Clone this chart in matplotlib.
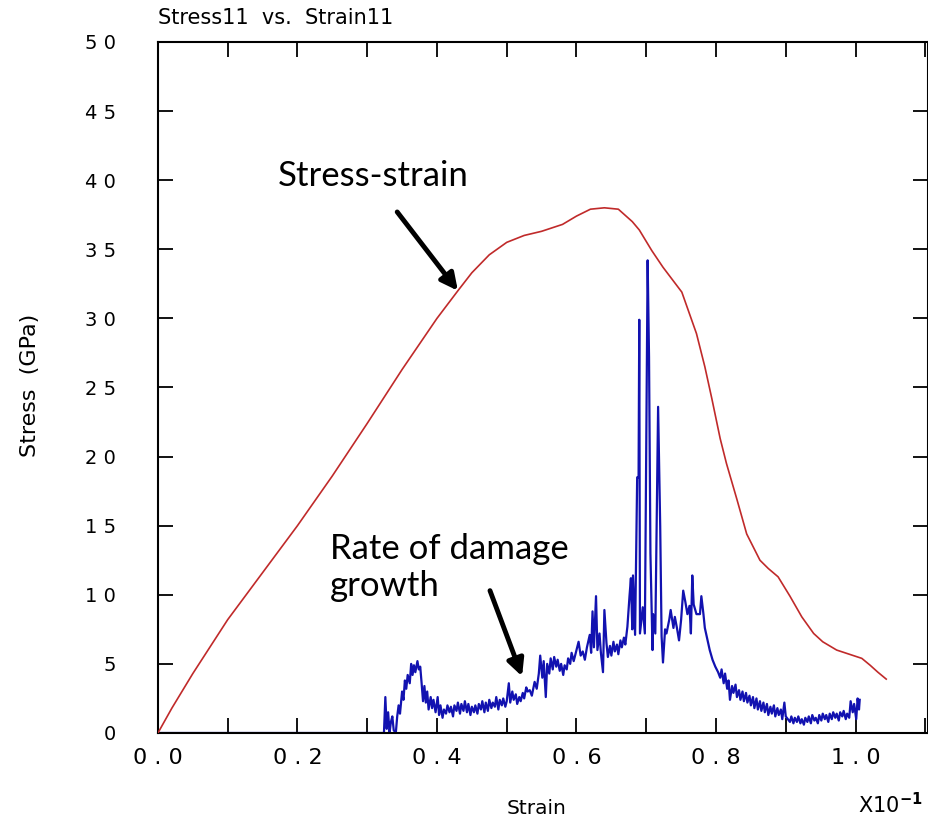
import matplotlib
matplotlib.use("Agg")
import matplotlib.pyplot as plt
from matplotlib.ticker import MultipleLocator, FuncFormatter

# stress-strain curve (strain in units of 1e-1, stress in GPa)
stress_strain = [0.000, 0.020, 0.050, 0.100, 0.150, 0.200, 0.250, 0.300, 0.350,
                 0.400, 0.430, 0.450, 0.475, 0.500, 0.525, 0.550, 0.580, 0.600,
                 0.620, 0.640, 0.660, 0.680, 0.690, 0.708, 0.724, 0.751, 0.772,
                 0.784, 0.794, 0.806, 0.815, 0.830, 0.844, 0.856, 0.863, 0.875,
                 0.889, 0.906, 0.923, 0.940, 0.953, 0.973, 0.997, 1.009, 1.021,
                 1.032, 1.044]
stress_vals = [0.0, 1.8, 4.3, 8.2, 11.6, 15.0, 18.6, 22.4, 26.3,
               30.0, 32.0, 33.3, 34.6, 35.5, 36.0, 36.3, 36.8, 37.4,
               37.9, 38.0, 37.9, 37.0, 36.4, 34.9, 33.7, 31.9, 28.9,
               26.5, 24.2, 21.3, 19.5, 16.9, 14.4, 13.2, 12.5, 11.9,
               11.3, 9.9, 8.4, 7.2, 6.6, 6.0, 5.6, 5.4, 4.9,
               4.4, 3.9]

# rate of damage growth
damage_strain = [0.000, 0.322, 0.324, 0.326, 0.328, 0.330, 0.332, 0.334, 0.336, 0.338,
                 0.341, 0.343, 0.345, 0.347, 0.350, 0.352, 0.354, 0.356, 0.358, 0.361,
                 0.363, 0.365, 0.367, 0.369, 0.372, 0.374, 0.376, 0.378, 0.380, 0.382,
                 0.384, 0.386, 0.388, 0.391, 0.393, 0.395, 0.398, 0.401, 0.403, 0.405,
                 0.408, 0.410, 0.413, 0.415, 0.418, 0.420, 0.423, 0.425, 0.428, 0.430,
                 0.433, 0.435, 0.438, 0.440, 0.443, 0.445, 0.448, 0.450, 0.453, 0.455,
                 0.458, 0.460, 0.463, 0.465, 0.468, 0.470, 0.473, 0.475, 0.478, 0.480,
                 0.483, 0.485, 0.488, 0.490, 0.493, 0.495, 0.498, 0.500, 0.503, 0.505,
                 0.508, 0.510, 0.513, 0.515, 0.518, 0.520, 0.523, 0.525, 0.528, 0.530,
                 0.533, 0.536, 0.540, 0.543, 0.546, 0.548, 0.551, 0.553, 0.556, 0.558,
                 0.561, 0.563, 0.566, 0.568, 0.571, 0.573, 0.576, 0.578, 0.581, 0.583,
                 0.586, 0.588, 0.591, 0.593, 0.596, 0.599, 0.603, 0.606, 0.609, 0.612,
                 0.615, 0.619, 0.621, 0.623, 0.625, 0.628, 0.630, 0.633, 0.635, 0.638,
                 0.640, 0.643, 0.645, 0.648, 0.650, 0.653, 0.655, 0.658, 0.660, 0.663,
                 0.665, 0.668, 0.670, 0.673, 0.676, 0.678, 0.680, 0.681, 0.684, 0.687,
                 0.689, 0.690, 0.691, 0.695, 0.698, 0.700, 0.702, 0.704, 0.706, 0.709,
                 0.710, 0.713, 0.715, 0.717, 0.720, 0.722, 0.724, 0.727, 0.729, 0.733,
                 0.735, 0.739, 0.741, 0.744, 0.747, 0.750, 0.753, 0.756, 0.759, 0.762,
                 0.764, 0.766, 0.768, 0.772, 0.777, 0.779, 0.782, 0.784, 0.788, 0.791,
                 0.795, 0.799, 0.803, 0.806, 0.808, 0.811, 0.813, 0.816, 0.818, 0.820,
                 0.823, 0.825, 0.828, 0.830, 0.833, 0.835, 0.838, 0.840, 0.843, 0.845,
                 0.848, 0.850, 0.853, 0.855, 0.858, 0.860, 0.863, 0.865, 0.868, 0.870,
                 0.873, 0.875, 0.878, 0.880, 0.883, 0.885, 0.888, 0.890, 0.893, 0.895,
                 0.898, 0.900, 0.903, 0.906, 0.908, 0.911, 0.913, 0.916, 0.918, 0.921,
                 0.923, 0.926, 0.928, 0.931, 0.933, 0.936, 0.938, 0.941, 0.943, 0.946,
                 0.948, 0.951, 0.953, 0.956, 0.958, 0.961, 0.963, 0.966, 0.968, 0.971,
                 0.973, 0.976, 0.978, 0.981, 0.983, 0.986, 0.988, 0.991, 0.993, 0.996,
                 0.998, 1.001, 1.003, 1.005, 1.006]
damage_vals = [0.0, 0.0, 0.0, 2.6, 0.3, 1.5, 0.0, 0.8, 1.2, 0.2,
               0.0, 1.2, 2.0, 1.4, 3.0, 2.4, 3.8, 3.2, 4.2, 3.6,
               5.0, 4.2, 4.9, 4.4, 5.2, 4.6, 4.8, 3.6, 2.3, 3.4,
               2.2, 3.0, 1.7, 2.6, 1.8, 2.4, 1.5, 2.6, 1.3, 2.0,
               1.1, 1.7, 1.4, 2.0, 1.5, 1.9, 1.2, 2.0, 1.6, 2.2,
               1.4, 2.1, 1.6, 2.3, 1.5, 2.1, 1.3, 1.9, 1.5, 2.0,
               1.4, 2.1, 1.7, 2.3, 1.5, 2.2, 1.6, 2.4, 1.8, 2.2,
               1.9, 2.6, 1.7, 2.4, 2.0, 2.5, 1.9, 2.3, 3.6, 2.2,
               3.0, 2.4, 2.8, 2.1, 2.6, 2.3, 2.9, 2.5, 3.3, 3.0,
               3.1, 2.7, 3.7, 3.2, 4.3, 5.6, 4.0, 5.2, 2.6, 5.0,
               4.3, 5.4, 4.6, 5.5, 4.8, 5.3, 4.5, 5.0, 4.2, 4.9,
               4.6, 5.4, 5.0, 5.8, 5.2, 5.8, 6.6, 5.6, 5.9, 5.3,
               6.2, 7.1, 5.8, 8.8, 6.2, 9.9, 6.0, 7.2, 5.8, 4.4,
               8.9, 6.5, 5.5, 6.3, 5.6, 6.6, 5.9, 6.4, 5.7, 6.7,
               6.2, 6.9, 6.4, 7.7, 9.9, 11.2, 7.5, 11.4, 7.1, 18.5,
               18.5, 29.9, 7.2, 9.1, 7.2, 20.7, 34.2, 27.2, 13.0, 6.0,
               8.6, 7.2, 15.7, 23.6, 15.0, 7.0, 5.1, 7.5, 7.2, 8.2,
               8.9, 7.6, 8.4, 7.6, 6.7, 8.2, 10.3, 9.5, 8.6, 9.2,
               7.2, 11.4, 9.3, 8.6, 8.6, 9.9, 8.6, 7.6, 6.7, 6.0,
               5.3, 4.8, 4.4, 4.0, 4.6, 3.6, 4.3, 3.2, 3.8, 2.4,
               3.4, 2.9, 3.5, 2.6, 3.1, 2.4, 3.0, 2.3, 2.9, 2.2,
               2.7, 2.0, 2.6, 1.8, 2.5, 1.7, 2.3, 1.6, 2.2, 1.5,
               2.1, 1.3, 1.9, 1.4, 2.0, 1.2, 1.8, 1.3, 1.7, 1.0,
               2.2, 1.2, 1.0, 0.8, 1.2, 0.7, 1.1, 0.8, 1.2, 0.7,
               1.0, 0.6, 1.1, 0.8, 1.2, 0.7, 1.3, 0.9, 1.1, 0.7,
               1.3, 0.9, 1.4, 1.0, 1.3, 0.8, 1.4, 1.0, 1.5, 1.1,
               1.4, 0.9, 1.5, 1.2, 1.6, 1.0, 1.4, 1.1, 2.3, 1.5,
               2.1, 1.0, 2.5, 1.7, 2.4]

pixel_font = "DejaVu Sans"
note_font = "Lato"

fig = plt.figure(figsize=(9.29, 8.26), dpi=100)
ax = fig.add_axes([0.170, 0.1126, 0.829, 0.8366])

ax.plot(stress_strain, stress_vals, color="#c02a2a", lw=1.2, zorder=3)
ax.plot(damage_strain, damage_vals, color="#1212b0", lw=1.6, zorder=2)

ax.set_xlim(0, 1.104)
ax.set_ylim(0, 50)

ax.xaxis.set_major_locator(MultipleLocator(0.1))
ax.yaxis.set_major_locator(MultipleLocator(5))


def fmt_x(v, pos):
    k = int(round(v * 10))
    if k % 2:
        return ""
    return " . ".join(f"{v:.1f}".split("."))


def fmt_y(v, pos):
    return " ".join(str(int(round(v))))


ax.xaxis.set_major_formatter(FuncFormatter(fmt_x))
ax.yaxis.set_major_formatter(FuncFormatter(fmt_y))
ax.tick_params(axis="both", direction="in", length=11, width=1.3,
               top=True, right=True, labelfontfamily=pixel_font)
ax.tick_params(axis="x", labelsize=16, pad=11)
ax.tick_params(axis="y", labelsize=14, pad=30)
for s in ax.spines.values():
    s.set_linewidth(1.5)

fig.text(158 / 929, 1 - 18 / 826, "Stress11  vs.  Strain11", fontsize=15,
         family=pixel_font, ha="left", va="center")
fig.text(537 / 929, 1 - 808 / 826, "Strain", fontsize=14.5,
         family=pixel_font, ha="center", va="center")
fig.text(858 / 929, 1 - 805 / 826, r"X10$^{\mathbf{-1}}$", fontsize=15,
         family=pixel_font, ha="left", va="center")
fig.text(30 / 929, 1 - 385 / 826, "Stress  (GPa)", fontsize=16,
         family=pixel_font, rotation=90, ha="center", va="center")

ax.text(0.172, 40.3, "Stress-strain", fontsize=25, family=note_font,
        ha="left", va="center")
ax.annotate("", xy=(0.430, 32.0), xytext=(0.343, 37.7),
            arrowprops=dict(arrowstyle="-|>,head_length=1.0,head_width=0.5",
                            color="black", lw=3.5, shrinkA=0, shrinkB=0))

ax.text(0.247, 12.0, "Rate of damage\ngrowth", fontsize=25, family=note_font,
        ha="left", va="center", linespacing=1.2)
ax.annotate("", xy=(0.522, 4.1), xytext=(0.476, 10.3),
            arrowprops=dict(arrowstyle="-|>,head_length=1.0,head_width=0.5",
                            color="black", lw=3.5, shrinkA=0, shrinkB=0))

plt.savefig("out.png", dpi=100)
plt.close()
